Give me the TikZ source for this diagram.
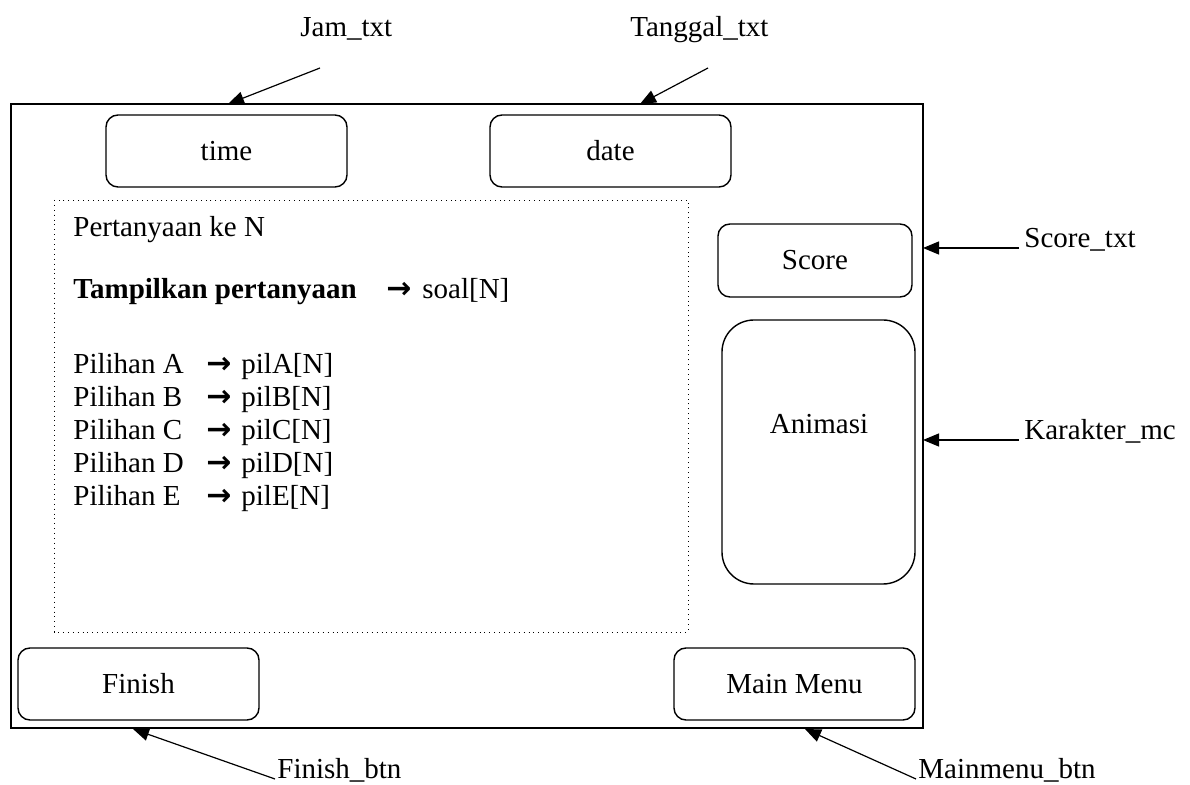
\documentclass[tikz,border=0pt]{standalone}
\usepackage{fontspec}
\setmainfont{Liberation Serif}
\newfontfamily\arrowfont{DejaVu Sans}
\usetikzlibrary{arrows.meta}

\tikzset{
  rbox/.style={draw,rounded corners=6pt,line width=0.7pt,inner sep=0pt},
  txt/.style={anchor=base west,inner sep=0pt},
  lbl/.style={anchor=base west,inner xsep=2.5pt,inner ysep=0pt},
  arr/.style={anchor=base,inner sep=0pt,font=\fontsize{15}{17}\arrowfont\bfseries},
  pointer/.style={-{Triangle[length=8pt,width=6.5pt]},line width=0.6pt},
}

\begin{document}
\begin{tikzpicture}[x=0.5pt,y=-0.5pt,font=\fontsize{14.5}{17}\selectfont]
                \useasboundingbox (0,0) rectangle (1190,785);
                % screen frame
                \draw[line width=0.9pt](11,104) rectangle (923,728);
                \draw[dotted,line width=0.45pt](54,200) rectangle (688,632);
                \node[rbox,minimum width=120.5pt,minimum height=36pt](time)at(226.5,151){time};
                \node[rbox,minimum width=120.5pt,minimum height=36pt](date)at(610.5,151){date};
                \node[rbox,minimum width=97pt,minimum height=36.5pt](score)at(815,260.5){Score};
                \node[rbox,rounded corners=16pt,minimum width=96.5pt,minimum height=132pt](anim)at(818.5,452){};
                \node(animtxt)at(819,424){Animasi};
                \node[rbox,minimum width=120.5pt,minimum height=36pt](finish)at(138.5,684){Finish};
                \node[rbox,minimum width=120.5pt,minimum height=36pt](mainmenu)at(794.5,684){Main Menu};
                % question area
                \node[txt](ke)at(73,237){Pertanyaan ke N};
                \node[txt](tampil)at(73,299){\bfseries Tampilkan pertanyaan};
                \node[arr](tampilarr)at(399,299){→};
                \node[txt](soal)at(422,299){soal[N]};
                \foreach \c [count=\i from 0] in {A,B,C,D,E}{
                  \node[txt](pil\c)at(73,374+33*\i){Pilihan \c};
                  \node[arr](arr\c)at(219,374+33*\i){→};
                  \node[txt](var\c)at(241,374+33*\i){pil\c[N]};
                }
                % component names
                \node[txt](Jam_txt)at(300,37){Jam\_txt};
                \node[txt](Tanggal_txt)at(630,37){Tanggal\_txt};
                \node[lbl](Score_txt)at(1019,248){Score\_txt};
                \node[lbl](Karakter_mc)at(1019,440){Karakter\_mc};
                \node[lbl,inner xsep=1pt](Finish_btn)at(275,779){Finish\_btn};
                \node[lbl,inner xsep=1pt](Mainmenu_btn)at(916,779){Mainmenu\_btn};
                \coordinate(jamfrom)at(320,68);
                \coordinate(jamtip)at(228,104);
                \coordinate(tglfrom)at(708,68);
                \coordinate(tgltip)at(640,104);
                \coordinate(scoretip)at(923,248);
                \coordinate(chartip)at(923,440);
                \coordinate(finishtip)at(133,729);
                \coordinate(menutip)at(805,729);
                \draw[pointer](jamfrom) -- (jamtip);
                \draw[pointer](tglfrom) -- (tgltip);
                \draw[pointer](Score_txt.base west) -- (scoretip);
                \draw[pointer](Karakter_mc.base west) -- (chartip);
                \draw[pointer](Finish_btn.base west) -- (finishtip);
                \draw[pointer](Mainmenu_btn.base west) -- (menutip);
            \end{tikzpicture}
\end{document}
